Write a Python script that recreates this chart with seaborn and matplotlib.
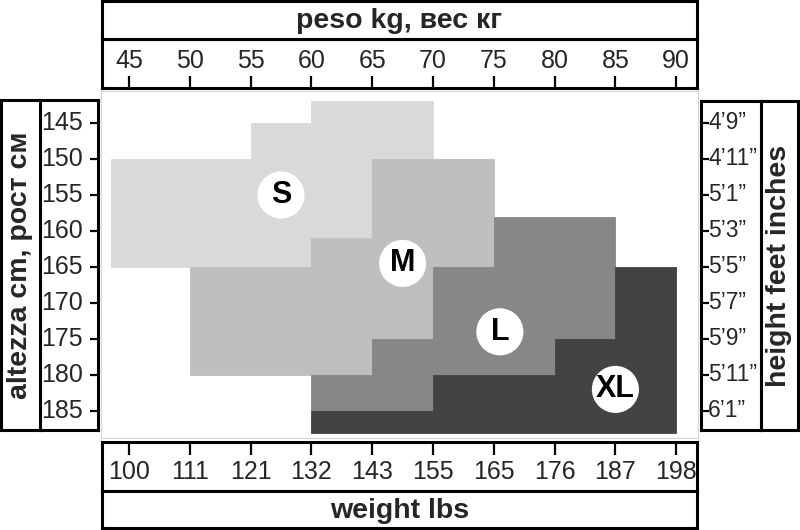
import seaborn as sns
import matplotlib.pyplot as plt
import numpy as np
import pandas as pd

# size zones, outline corners in kg / cm (step shapes)
sizes = ['S', 'M', 'L', 'XL']
s_kg = [60, 70, 70, 65, 65, 60, 60, 43.5, 43.5, 55, 55, 60]
s_cm = [142, 142, 150, 150, 161, 161, 165, 165, 150, 150, 145, 145]
m_kg = [65, 75, 75, 70, 70, 65, 65, 50, 50, 60, 60, 65]
m_cm = [150, 150, 165, 165, 175, 175, 180, 180, 165, 165, 161, 161]
l_kg = [75, 85, 85, 80, 80, 70, 70, 60, 60, 65, 65, 70, 70, 75]
l_cm = [158, 158, 175, 175, 180, 180, 185, 185, 180, 180, 175, 175, 165, 165]
xl_kg = [85, 90, 90, 60, 60, 70, 70, 80, 80, 85]
xl_cm = [165, 165, 188, 188, 185, 185, 180, 180, 175, 175]

# where the size badges sit
label_kg = [57.5, 67.5, 75.5, 85]
label_cm = [155, 164.5, 174, 182]

kg_ticks = [45, 50, 55, 60, 65, 70, 75, 80, 85, 90]
lbs_labels = ['100', '111', '121', '132', '143', '155', '165', '176', '187', '198']
cm_ticks = [145, 150, 155, 160, 165, 170, 175, 180, 185]
ft_labels = ['4\u20199\u201d', '4\u201911\u201d', '5\u20191\u201d', '5\u20193\u201d', '5\u20195\u201d',
             '5\u20197\u201d', '5\u20199\u201d', '5\u201911\u201d', '6\u20191\u201d']

colors = ['#d9d9d9', '#bebebe', '#878787', '#434343']

sns.set_theme(style='white')
plt.rcParams['font.family'] = ['Liberation Sans', 'DejaVu Sans']
tick_font = ['Liberation Sans Narrow', 'Liberation Sans', 'DejaVu Sans']

W, H = 800, 530
fig = plt.figure(figsize=(8, 5.3), dpi=100)


def box(x0, y0, x1, y1):
    a = fig.add_axes([x0 / W, 1 - y1 / H, (x1 - x0) / W, (y1 - y0) / H])
    a.set_xticks([])
    a.set_yticks([])
    for sp in a.spines.values():
        sp.set_color('black')
        sp.set_linewidth(2.2)
    return a


def kg_at(px):
    return 45 + (px - 129) / 12.16


def cm_at(py):
    return 165 + (py - 267) / 7.2


# main chart
ax = box(101, 91, 698, 438)
for sp in ax.spines.values():
    sp.set_color('#d4d4d4')
    sp.set_linewidth(0.8)
ax.set_xlim(kg_at(101), kg_at(698))
ax.set_ylim(cm_at(438), cm_at(91))

shapes = [(s_kg, s_cm), (m_kg, m_cm), (l_kg, l_cm), (xl_kg, xl_cm)]
for (xs, ys), c in zip(shapes, colors):
    ax.fill(xs, ys, color=c, lw=0.6, ec=c)

badges = pd.DataFrame({'kg': label_kg, 'cm': label_cm, 'size': sizes})
sns.scatterplot(data=badges, x='kg', y='cm', s=1150, color='white',
                edgecolor='none', legend=False, ax=ax, zorder=3)
for _, r in badges.iterrows():
    ax.text(r['kg'], r['cm'], r['size'], ha='center', va='center',
            fontsize=22, fontweight='bold', color='black', zorder=4)
ax.set_xlabel('')
ax.set_ylabel('')
ax.set_xticks([])
ax.set_yticks([])

# top: kg
axt = box(102, 39, 697, 88)
axt.set_xlim(kg_at(102), kg_at(697))
axt.set_ylim(0, 1)
axt.set_xticks(kg_ticks)
axt.tick_params(axis='x', bottom=True, direction='in', length=9, width=1.6,
                color='black', labelbottom=False)
for k in kg_ticks:
    axt.text(k, 0.56, str(k), ha='center', va='center', fontsize=18, family=tick_font)

axtt = box(102, 1, 697, 39)
axtt.text(0.5, 0.48, 'peso kg, вес кг', ha='center', va='center',
          fontsize=20.5, fontweight='bold', transform=axtt.transAxes)

# bottom: lbs
axb = box(102, 442, 697, 491)
axb.set_xlim(kg_at(102), kg_at(697))
axb.set_ylim(0, 1)
axb.set_xticks(kg_ticks)
axb.tick_params(axis='x', top=True, bottom=False, direction='in', length=9, width=1.6,
                color='black', labelbottom=False, labeltop=False)
for k, lab in zip(kg_ticks, lbs_labels):
    axb.text(k, 0.38, lab, ha='center', va='center', fontsize=18, family=tick_font)

axbt = box(102, 491, 697, 528)
axbt.text(0.5, 0.45, 'weight lbs', ha='center', va='center',
          fontsize=20.5, fontweight='bold', transform=axbt.transAxes)

# left: cm
axl = box(40, 100, 98, 430)
axl.set_xlim(0, 1)
axl.set_ylim(cm_at(430), cm_at(100))
axl.set_yticks(cm_ticks)
axl.tick_params(axis='y', right=True, left=False, direction='in', length=6, width=1.6,
                color='black', labelleft=False)
for c in cm_ticks:
    axl.text(0.74, c, str(c), ha='right', va='center', fontsize=18, family=tick_font)

axlt = box(1, 100, 40, 430)
axlt.text(0.5, 0.5, 'altezza cm, рост см', ha='center', va='center', rotation=90,
          fontsize=20.5, fontweight='bold', transform=axlt.transAxes)

# right: feet / inches
axr = box(701, 101, 761, 430)
axr.set_xlim(0, 1)
axr.set_ylim(cm_at(430), cm_at(101))
axr.set_yticks(cm_ticks)
axr.tick_params(axis='y', left=True, right=False, direction='in', length=6, width=1.6,
                color='black', labelleft=False)
for c, lab in zip(cm_ticks, ft_labels):
    axr.text(0.12, c, lab, ha='left', va='center', fontsize=16.5, family=tick_font)

axrt = box(761, 101, 798, 430)
axrt.text(0.5, 0.5, 'height feet inches', ha='center', va='center', rotation=90,
          fontsize=20.5, fontweight='bold', transform=axrt.transAxes)

fig.savefig('out.png', dpi=100)
